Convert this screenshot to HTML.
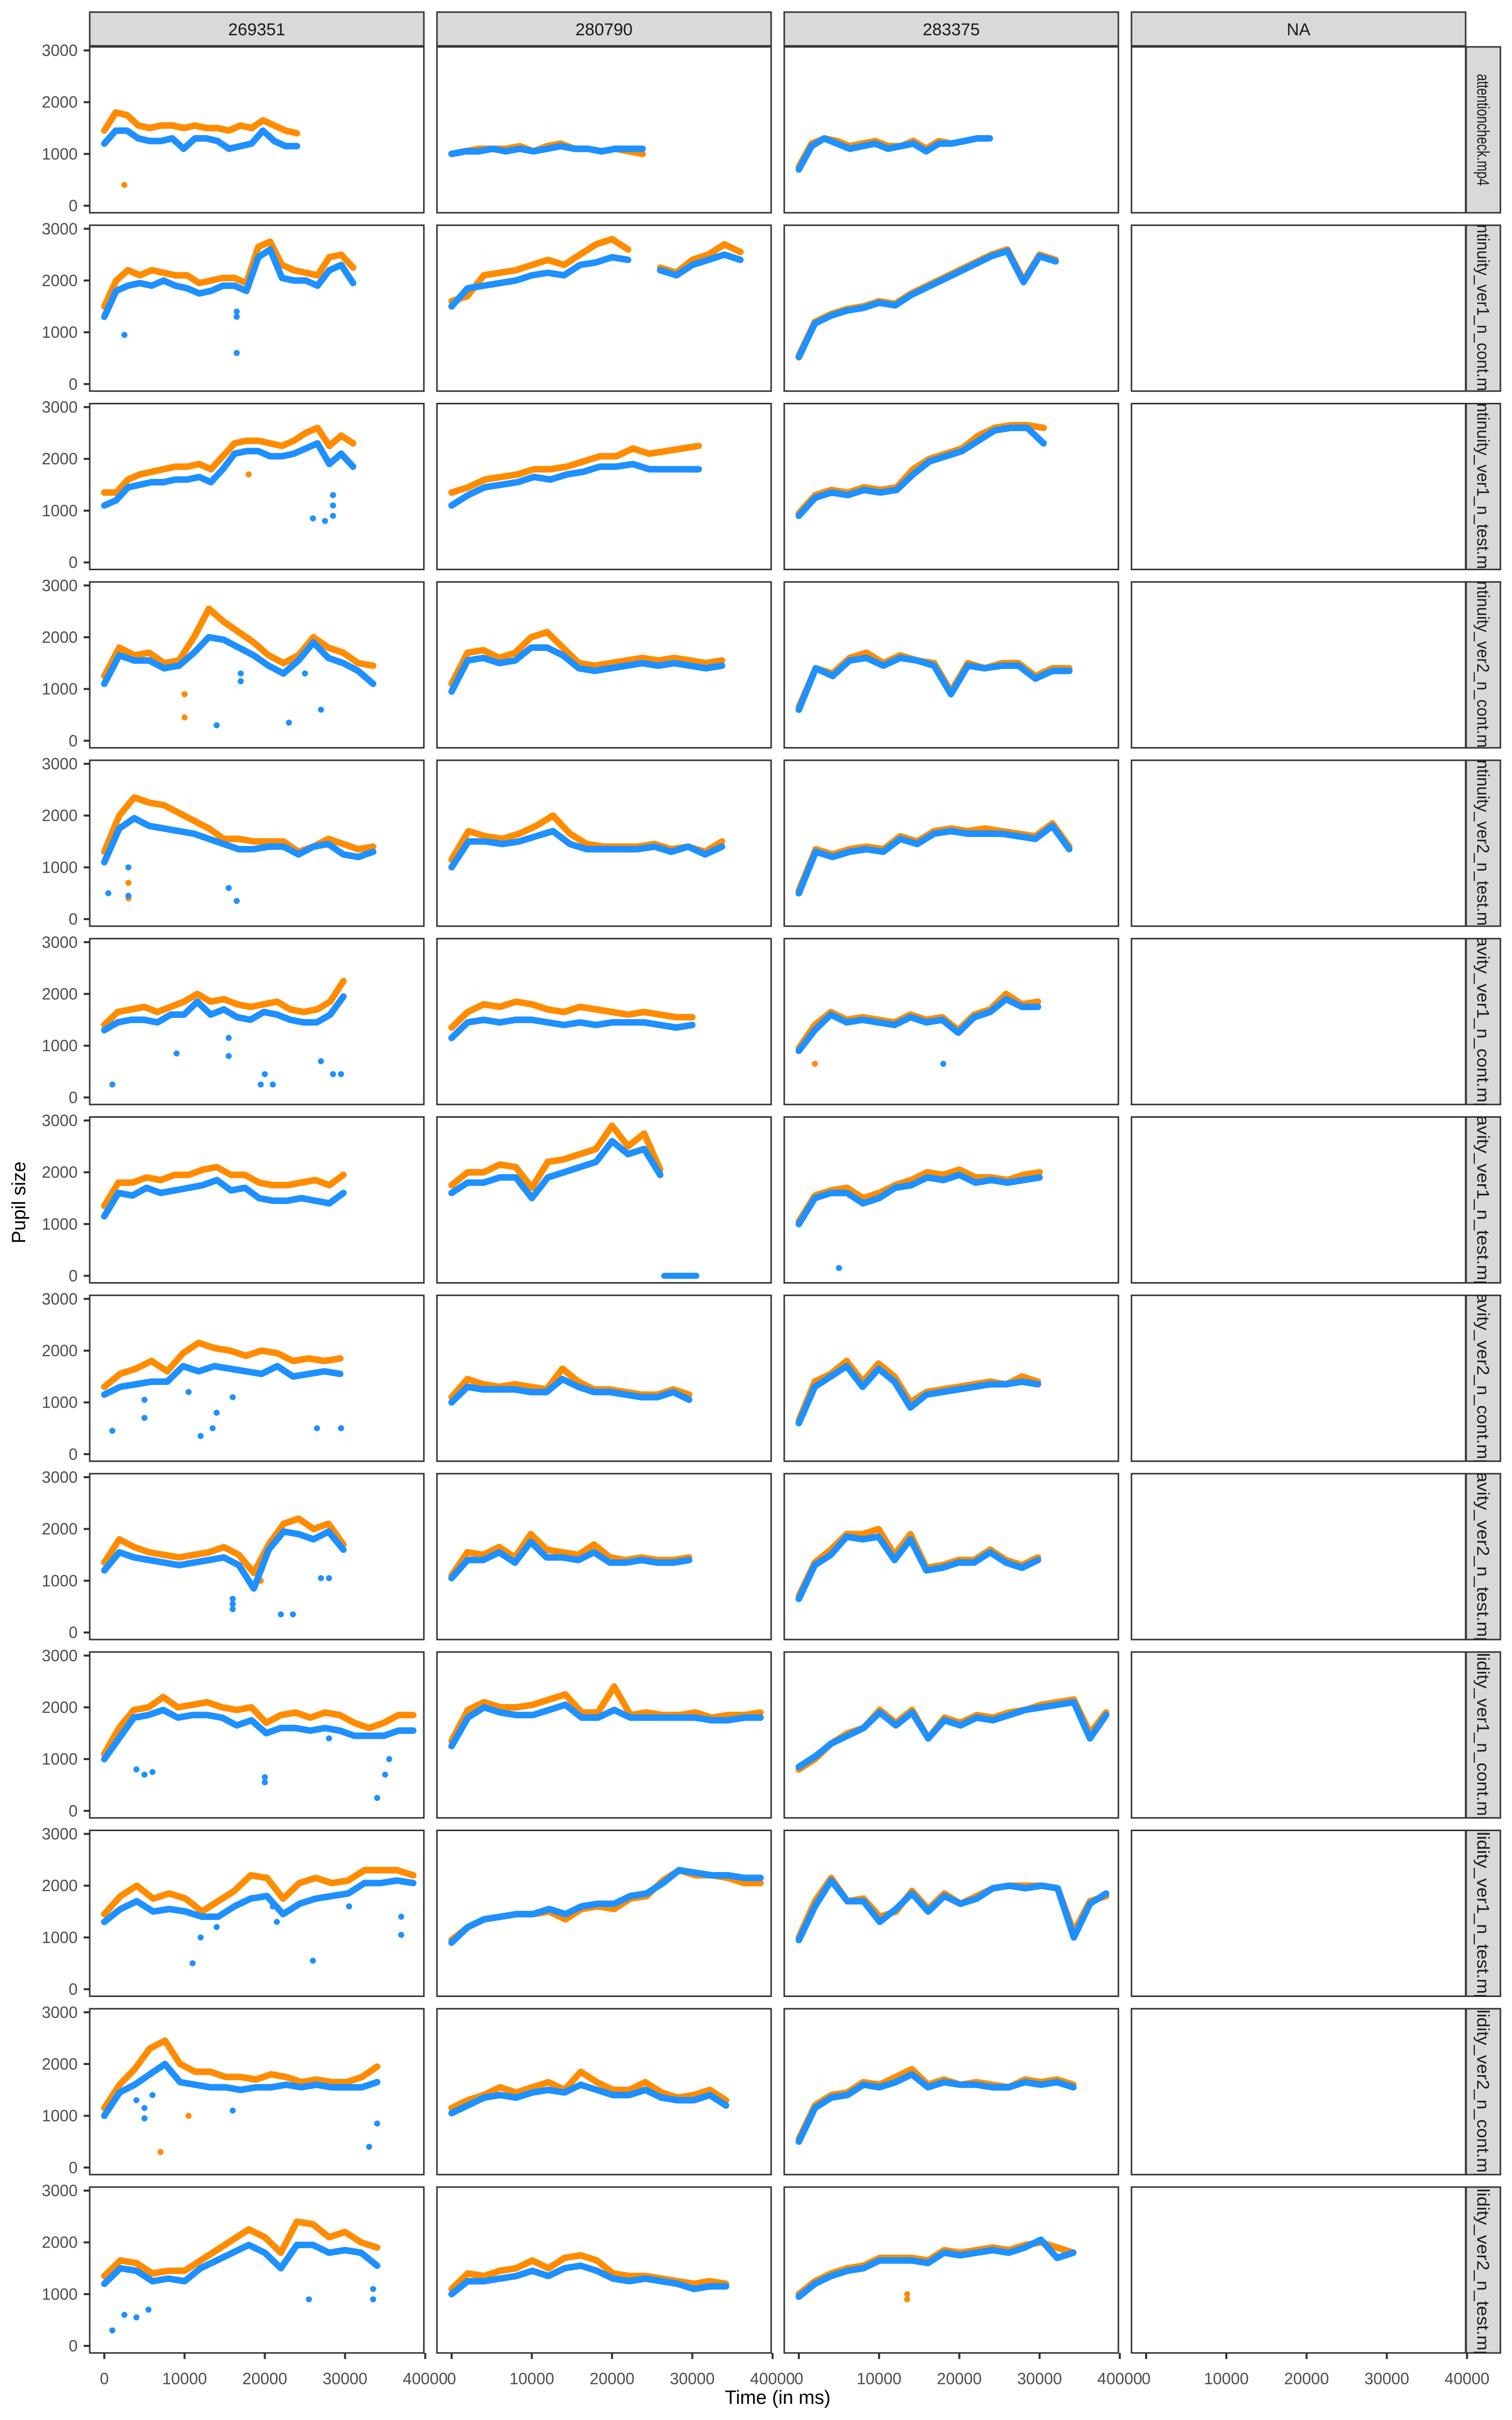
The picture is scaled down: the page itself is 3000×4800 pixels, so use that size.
<!DOCTYPE html>
<html><head><meta charset="utf-8"><style>
html,body{margin:0;padding:0;background:#fff}
svg{display:block}
text{font-family:"Liberation Sans",Arial,sans-serif}
</style></head><body>
<svg id="chart" xmlns="http://www.w3.org/2000/svg" width="3000" height="4800" viewBox="0 0 3000 4800">
<rect width="3000" height="4800" fill="#fff"/>
<g id="layer"></g>
</svg>
<script>
const subjects = ["269351","280790","283375","NA"];
const videos = ["attentioncheck.mp4","continuity_ver1_n_cont.mp4","continuity_ver1_n_test.mp4","continuity_ver2_n_cont.mp4","continuity_ver2_n_test.mp4","gravity_ver1_n_cont.mp4","gravity_ver1_n_test.mp4","gravity_ver2_n_cont.mp4","gravity_ver2_n_test.mp4","solidity_ver1_n_cont.mp4","solidity_ver1_n_test.mp4","solidity_ver2_n_cont.mp4","solidity_ver2_n_test.mp4"];
const yTicks = [0,1000,2000,3000];
const xTicks = [0,10000,20000,30000,40000];
const endTimes = [
 [24000,23800,23800],[31000,36000,32000],[31000,30800,30500],[33500,33700,33700],
 [33500,33700,33700],[29800,30000,29800],[29800,26000,30000],[29400,29600,29800],
 [29800,29600,29800],[38500,38500,38300],[38500,38500,38300],[34000,34200,34200],[34000,34200,34200]];
const orangeRow1 = [[1450,1800,1750,1550,1500,1550,1550,1500,1550,1500,1500,1450,1550,1500,1650,1550,1450,1400],[1000,1050,1100,1100,1100,1150,1050,1150,1200,1100,1100,1050,1100,1050,1000],[750,1200,1300,1250,1150,1200,1250,1150,1150,1250,1100,1250,1200,1250,1300,1300]];
const blueRow1 = [[1200,1450,1450,1300,1250,1250,1300,1100,1300,1300,1250,1100,1150,1200,1450,1250,1150,1150],[1000,1050,1050,1100,1050,1100,1050,1100,1150,1100,1100,1050,1100,1100,1100],[700,1150,1300,1200,1100,1150,1200,1100,1150,1200,1050,1200,1200,1250,1300,1300]];
const orangeRow2 = [[1500,2000,2200,2100,2200,2150,2100,2100,1950,2000,2050,2050,1950,2650,2750,2300,2200,2150,2100,2450,2500,2250],[1600,1700,2100,2150,2200,2300,2400,2300,2500,2700,2800,2600,null,2250,2150,2400,2500,2700,2550],[550,1200,1350,1450,1500,1600,1550,1750,1900,2050,2200,2350,2500,2600,2000,2500,2400]];
const blueRow2 = [[1300,1800,1900,1950,1900,2000,1900,1850,1750,1800,1900,1900,1800,2450,2600,2050,2000,2000,1900,2200,2300,1950],[1500,1850,1900,1950,2000,2100,2150,2100,2300,2350,2450,2400,null,2200,2100,2300,2400,2500,2400],[520,1170,1320,1420,1470,1570,1520,1720,1870,2020,2170,2320,2470,2570,1970,2470,2370]];
const orangeRow3 = [[1350,1350,1600,1700,1750,1800,1850,1850,1900,1800,2050,2300,2350,2350,2300,2250,2350,2500,2600,2250,2450,2300],[1350,1450,1600,1650,1700,1800,1800,1850,1950,2050,2050,2200,2100,2150,2200,2250],[950,1300,1400,1350,1450,1400,1450,1800,2000,2100,2200,2450,2600,2650,2650,2600]];
const blueRow3 = [[1100,1200,1450,1500,1550,1550,1600,1600,1650,1550,1800,2100,2150,2150,2050,2050,2100,2200,2300,1900,2100,1850],[1100,1300,1450,1500,1550,1650,1600,1700,1750,1850,1850,1900,1800,1800,1800,1800],[900,1250,1350,1300,1400,1350,1400,1700,1950,2050,2150,2350,2550,2600,2600,2300]];
const orangeRow4 = [[1250,1800,1650,1700,1500,1550,2000,2550,2300,2100,1900,1650,1500,1650,2000,1800,1700,1500,1450],[1100,1700,1750,1600,1700,2000,2100,1800,1500,1450,1500,1550,1600,1550,1600,1550,1500,1550],[650,1400,1300,1600,1700,1500,1650,1550,1500,950,1500,1400,1500,1500,1250,1400,1400]];
const blueRow4 = [[1100,1650,1550,1550,1400,1450,1700,2000,1950,1800,1650,1450,1300,1550,1900,1600,1500,1350,1100],[950,1550,1600,1500,1550,1800,1800,1650,1400,1350,1400,1450,1500,1450,1500,1450,1400,1450],[600,1400,1250,1550,1600,1450,1600,1550,1450,900,1450,1400,1450,1450,1200,1350,1350]];
const orangeRow5 = [[1300,2000,2350,2250,2200,2050,1900,1750,1550,1550,1500,1500,1500,1300,1400,1550,1450,1350,1400],[1150,1700,1600,1550,1650,1800,2000,1650,1450,1400,1400,1400,1450,1350,1400,1300,1500],[550,1350,1250,1350,1400,1350,1600,1500,1700,1750,1700,1750,1700,1650,1600,1850,1400]];
const blueRow5 = [[1100,1750,1950,1800,1750,1700,1650,1550,1450,1350,1350,1400,1400,1250,1400,1450,1250,1200,1300],[1000,1500,1500,1450,1500,1600,1700,1450,1350,1350,1350,1350,1400,1300,1400,1250,1400],[500,1300,1200,1300,1350,1300,1550,1450,1650,1700,1650,1650,1650,1600,1550,1800,1350]];
const orangeRow6 = [[1400,1650,1700,1750,1650,1750,1850,2000,1850,1900,1800,1750,1800,1850,1700,1650,1700,1850,2250],[1350,1650,1800,1750,1850,1800,1700,1650,1750,1700,1650,1600,1650,1600,1550,1550],[950,1400,1650,1500,1550,1500,1450,1600,1500,1550,1300,1600,1700,2000,1800,1850]];
const blueRow6 = [[1300,1450,1500,1500,1450,1600,1600,1850,1600,1700,1550,1500,1650,1600,1500,1450,1450,1600,1950],[1150,1450,1500,1450,1500,1500,1450,1400,1450,1400,1450,1450,1450,1400,1350,1400],[900,1300,1600,1450,1500,1450,1400,1550,1450,1500,1250,1550,1650,1900,1750,1750]];
const orangeRow7 = [[1350,1800,1800,1900,1850,1950,1950,2050,2100,1950,1950,1800,1750,1750,1800,1850,1750,1950],[1750,2000,2000,2150,2100,1700,2200,2250,2350,2450,2900,2500,2750,2050],[1050,1550,1650,1700,1500,1600,1750,1850,2000,1950,2050,1900,1900,1850,1950,2000]];
const blueRow7 = [[1150,1600,1550,1700,1600,1650,1700,1750,1850,1650,1700,1500,1450,1450,1500,1450,1400,1600],[1600,1800,1800,1900,1900,1500,1900,2000,2100,2200,2600,2350,2450,1950],[1000,1500,1600,1600,1400,1500,1700,1750,1900,1850,1950,1800,1850,1800,1850,1900]];
const orangeRow8 = [[1300,1550,1650,1800,1600,1950,2150,2050,2000,1900,2000,1950,1800,1850,1800,1850],[1100,1450,1350,1300,1350,1300,1250,1650,1400,1250,1250,1200,1150,1150,1250,1150],[650,1400,1550,1800,1400,1750,1500,1000,1200,1250,1300,1350,1400,1350,1500,1400]];
const blueRow8 = [[1150,1300,1350,1400,1400,1700,1600,1700,1650,1600,1550,1700,1500,1550,1600,1550],[1000,1300,1250,1250,1250,1200,1200,1450,1300,1200,1200,1150,1100,1100,1200,1050],[600,1300,1500,1700,1300,1650,1400,900,1150,1200,1250,1300,1350,1350,1400,1350]];
const orangeRow9 = [[1350,1800,1650,1550,1500,1450,1500,1550,1650,1500,1150,1700,2100,2200,2000,2100,1700],[1100,1550,1500,1650,1450,1900,1600,1550,1500,1700,1450,1400,1450,1400,1400,1450],[700,1350,1600,1900,1900,2000,1500,1900,1250,1300,1400,1400,1600,1400,1300,1450]];
const blueRow9 = [[1200,1550,1450,1400,1350,1300,1350,1400,1450,1300,850,1600,1950,1900,1800,1950,1600],[1050,1400,1400,1550,1350,1750,1450,1450,1400,1550,1350,1350,1400,1350,1350,1400],[650,1300,1500,1850,1800,1850,1400,1800,1200,1250,1350,1350,1550,1350,1250,1400]];
const orangeRow10 = [[1100,1600,1950,2000,2200,2000,2050,2100,2000,1950,2000,1700,1850,1900,1800,1900,1850,1700,1600,1700,1850,1850],[1350,1950,2100,2000,2000,2050,2150,2250,1900,1900,2400,1850,1900,1850,1850,1900,1800,1850,1850,1900],[800,1000,1300,1500,1600,1950,1700,1950,1400,1800,1700,1850,1800,1900,1950,2050,2100,2150,1500,1900]];
const blueRow10 = [[1000,1400,1800,1850,1950,1800,1850,1850,1800,1650,1750,1500,1600,1600,1550,1600,1550,1450,1450,1450,1550,1550],[1250,1800,2000,1900,1850,1850,1950,2050,1800,1800,1950,1800,1800,1800,1800,1800,1750,1750,1800,1800],[850,1050,1300,1450,1600,1900,1650,1900,1400,1750,1650,1800,1750,1850,1950,2000,2050,2100,1400,1850]];
const orangeRow11 = [[1450,1800,2000,1750,1850,1750,1500,1700,1900,2200,2150,1750,2050,2150,2050,2100,2300,2300,2300,2200],[950,1200,1350,1400,1450,1450,1500,1350,1550,1600,1550,1750,1800,2100,2300,2200,2200,2150,2050,2050],[1000,1700,2150,1700,1750,1400,1500,1900,1550,1850,1650,1800,1950,2000,2000,2000,1950,1100,1700,1800]];
const blueRow11 = [[1300,1550,1700,1500,1550,1500,1400,1400,1600,1750,1800,1450,1650,1750,1800,1850,2050,2050,2100,2050],[900,1200,1350,1400,1450,1450,1550,1450,1600,1650,1650,1800,1850,2050,2300,2250,2200,2200,2150,2150],[950,1600,2100,1700,1700,1300,1550,1850,1500,1800,1650,1750,1950,2000,1950,2000,1950,1000,1650,1850]];
const orangeRow12 = [[1150,1600,1900,2300,2450,2000,1850,1850,1750,1750,1700,1800,1750,1650,1700,1650,1650,1750,1950],[1150,1300,1400,1550,1450,1550,1650,1500,1850,1650,1500,1500,1650,1450,1350,1400,1500,1300],[550,1200,1400,1450,1650,1600,1750,1900,1600,1700,1600,1650,1600,1550,1700,1650,1700,1600]];
const blueRow12 = [[1000,1450,1600,1800,2000,1650,1600,1550,1550,1500,1550,1550,1600,1550,1600,1550,1550,1550,1650],[1050,1200,1350,1400,1350,1450,1500,1450,1600,1500,1400,1400,1500,1350,1300,1300,1400,1200],[500,1150,1350,1400,1600,1550,1650,1800,1550,1650,1600,1600,1550,1550,1650,1600,1650,1550]];
const orangeRow13 = [[1350,1650,1600,1400,1450,1450,1650,1850,2050,2250,2100,1800,2400,2350,2100,2200,2000,1900],[1100,1400,1350,1450,1500,1650,1500,1700,1750,1650,1400,1350,1350,1300,1250,1200,1250,1200],[1000,1250,1400,1500,1550,1700,1700,1700,1650,1850,1800,1850,1900,1850,1950,2000,1900,1800]];
const blueRow13 = [[1200,1500,1450,1250,1300,1250,1500,1650,1800,1950,1800,1500,1950,1950,1800,1850,1800,1550],[1000,1250,1250,1300,1350,1450,1350,1500,1550,1450,1300,1250,1300,1250,1200,1100,1150,1150],[950,1200,1350,1450,1500,1650,1650,1650,1600,1800,1750,1800,1850,1800,1900,2050,1700,1800]];
const orangeOutliers = [[0,0,2500,400],[3,0,10000,900],[3,0,10000,450],[4,0,3000,400],[4,0,3000,700],[2,0,18000,1700],[5,2,2000,650],[8,0,19500,1000],[11,0,7000,300],[11,0,10500,1000],[12,2,13500,1000],[12,2,13500,900]];
const blueOutliers = [[1,0,2500,950],[1,0,16500,600],[1,0,16500,1400],[1,0,16500,1300],[2,0,28500,1300],[2,0,28500,1100],[2,0,28500,900],[2,0,26000,850],[2,0,27500,800],
 [3,0,14000,300],[3,0,17000,1300],[3,0,17000,1150],[3,0,23000,350],[3,0,27000,600],[3,0,25000,1300],
 [4,0,500,500],[4,0,3000,1000],[4,0,15500,600],[4,0,16500,350],[4,0,3000,450],
 [5,0,1000,250],[5,0,9000,850],[5,0,15500,1150],[5,0,19500,250],[5,0,20000,450],[5,0,21000,250],[5,0,27000,700],[5,0,28500,450],[5,0,29500,450],[5,0,15500,800],[5,2,18000,650],
 [6,2,5000,150],
 [7,0,1000,450],[7,0,5000,1050],[7,0,5000,700],[7,0,10500,1200],[7,0,12000,350],[7,0,13500,500],[7,0,14000,800],[7,0,26500,500],[7,0,29500,500],[7,0,16000,1100],
 [8,0,16000,550],[8,0,16000,450],[8,0,22000,350],[8,0,23500,350],[8,0,27000,1050],[8,0,28000,1050],[8,0,16000,650],
 [9,0,4000,800],[9,0,5000,700],[9,0,6000,750],[9,0,20000,550],[9,0,20000,650],[9,0,34000,250],[9,0,35000,700],[9,0,35500,1000],[9,0,28000,1400],
 [10,0,11000,500],[10,0,12000,1000],[10,0,26000,550],[10,0,21000,1600],[10,0,21500,1300],[10,0,37000,1050],[10,0,37000,1400],[10,0,14000,1200],[10,0,30500,1600],
 [11,0,5000,1150],[11,0,5000,950],[11,0,16000,1100],[11,0,4000,1300],[11,0,33000,400],[11,0,34000,850],[11,0,6000,1400],
 [12,0,1000,300],[12,0,2500,600],[12,0,4000,550],[12,0,5500,700],[12,0,25500,900],[12,0,33500,900],[12,0,33500,1100]];
const zeroRunStart = 26500, zeroRunEnd = 30500, zeroRunValue = 0;

const orangeRows=[orangeRow1,orangeRow2,orangeRow3,orangeRow4,orangeRow5,orangeRow6,orangeRow7,orangeRow8,orangeRow9,orangeRow10,orangeRow11,orangeRow12,orangeRow13];
const blueRows=[blueRow1,blueRow2,blueRow3,blueRow4,blueRow5,blueRow6,blueRow7,blueRow8,blueRow9,blueRow10,blueRow11,blueRow12,blueRow13];

const NS="http://www.w3.org/2000/svg";
const layer=document.getElementById('layer');
const PL=178, PW=663, CS=689, PT=93, PH=329, RS=353.75;
function colX(c){return PL+c*CS;}
function rowY(r){return PT+r*RS;}
function xs(c,t){return colX(c)+29+t*0.01592;}
function ys(r,v){return rowY(r)+7+(3000-v)/3000*308;}
function mk(tag,attrs,parent){const e=document.createElementNS(NS,tag);for(const k in attrs)e.setAttribute(k,attrs[k]);(parent||layer).appendChild(e);return e;}
const ORANGE="#FF8C00", BLUE="#1E90FF";

const defs=mk('defs',{});
for(let r=0;r<13;r++){
  const cp=mk('clipPath',{id:'sc'+r},defs);
  mk('rect',{x:2909,y:rowY(r),width:68,height:PH},cp);
}

for(let r=0;r<13;r++){
  for(let c=0;c<4;c++){
    const p=mk('rect',{x:colX(c),y:rowY(r),width:PW,height:PH,fill:'#fff',stroke:'#333',"stroke-width":3});
    
    
  }
  yTicks.forEach(v=>{
    const y=ys(r,v);
    const tk=mk('line',{x1:166,x2:178,y1:y,y2:y,stroke:'#333',"stroke-width":4});
    
    
    const tl=mk('text',{x:154,y:y+11,"text-anchor":"end","font-size":32,fill:'#4d4d4d'});
    tl.textContent=v;
    
    
  });
  const sr=mk('rect',{x:2909,y:rowY(r),width:68,height:PH,fill:'#d9d9d9',stroke:'#333',"stroke-width":3});
  
  
  const g=mk('g',{"clip-path":'url(#sc'+r+')'});
  const cx=2943, cy=rowY(r)+PH/2;
  const st=mk('text',{x:cx,y:cy,"text-anchor":"middle","font-size":34,fill:'#1a1a1a',transform:`rotate(90 ${cx} ${cy}) translate(0 12)`},g);
  st.setAttribute('textLength', r===0 ? 222 : 400);
  st.setAttribute('lengthAdjust','spacingAndGlyphs');
  st.textContent=videos[r];
  
  
}
for(let c=0;c<4;c++){
  const s=mk('rect',{x:colX(c),y:24,width:PW,height:67,fill:'#d9d9d9',stroke:'#333',"stroke-width":3});
  
  
  const t=mk('text',{x:colX(c)+PW/2,y:70,"text-anchor":"middle","font-size":34,fill:'#1a1a1a'});
  t.textContent=subjects[c];
  
  
}
const bottom=rowY(12)+PH;
for(let c=0;c<4;c++){
  xTicks.forEach(v=>{
    const x=xs(c,v);
    const tk=mk('line',{x1:x,x2:x,y1:bottom,y2:bottom+12,stroke:'#333',"stroke-width":4});
    
    
    const tl=mk('text',{x:x,y:bottom+62,"text-anchor":"middle","font-size":32,fill:'#4d4d4d'});
    tl.textContent=v;
    
    
  });
}
function drawSeries(r,c,vals,color,name){
  const n=vals.length, end=endTimes[r][c];
  let seg=[];
  const segs=[];
  vals.forEach((v,i)=>{
    const t=end*i/(n-1);
    if(v===null){if(seg.length)segs.push(seg);seg=[];}
    else seg.push(xs(c,t).toFixed(1)+','+ys(r,v).toFixed(1));
  });
  if(seg.length)segs.push(seg);
  segs.forEach(s=>{
    const pl=mk('polyline',{points:s.join(' '),fill:'none',stroke:color,"stroke-width":13,"stroke-linejoin":"round","stroke-linecap":"round"});
    
    
  });
}
for(let r=0;r<13;r++)for(let c=0;c<3;c++){
  drawSeries(r,c,orangeRows[r][c],ORANGE,'left-eye-line');
}
orangeOutliers.forEach(o=>{
  const d=mk('circle',{cx:xs(o[1],o[2]),cy:ys(o[0],o[3]),r:6,fill:ORANGE});
  
  
});
for(let r=0;r<13;r++)for(let c=0;c<3;c++){
  drawSeries(r,c,blueRows[r][c],BLUE,'right-eye-line');
}
blueOutliers.forEach(o=>{
  const d=mk('circle',{cx:xs(o[1],o[2]),cy:ys(o[0],o[3]),r:6,fill:BLUE});
  
  
});
const zr=mk('line',{x1:xs(1,zeroRunStart),x2:xs(1,zeroRunEnd),y1:ys(6,zeroRunValue),y2:ys(6,zeroRunValue),stroke:BLUE,"stroke-width":12,"stroke-linecap":"round"});


const xt=mk('text',{x:1543,y:4768,"text-anchor":"middle","font-size":38,fill:'#000'});
xt.textContent='Time (in ms)';


const yt=mk('text',{x:0,y:0,"text-anchor":"middle","font-size":38,fill:'#000',transform:'translate(50 2385) rotate(-90)'});
yt.textContent='Pupil size';


</script>
</body></html>
